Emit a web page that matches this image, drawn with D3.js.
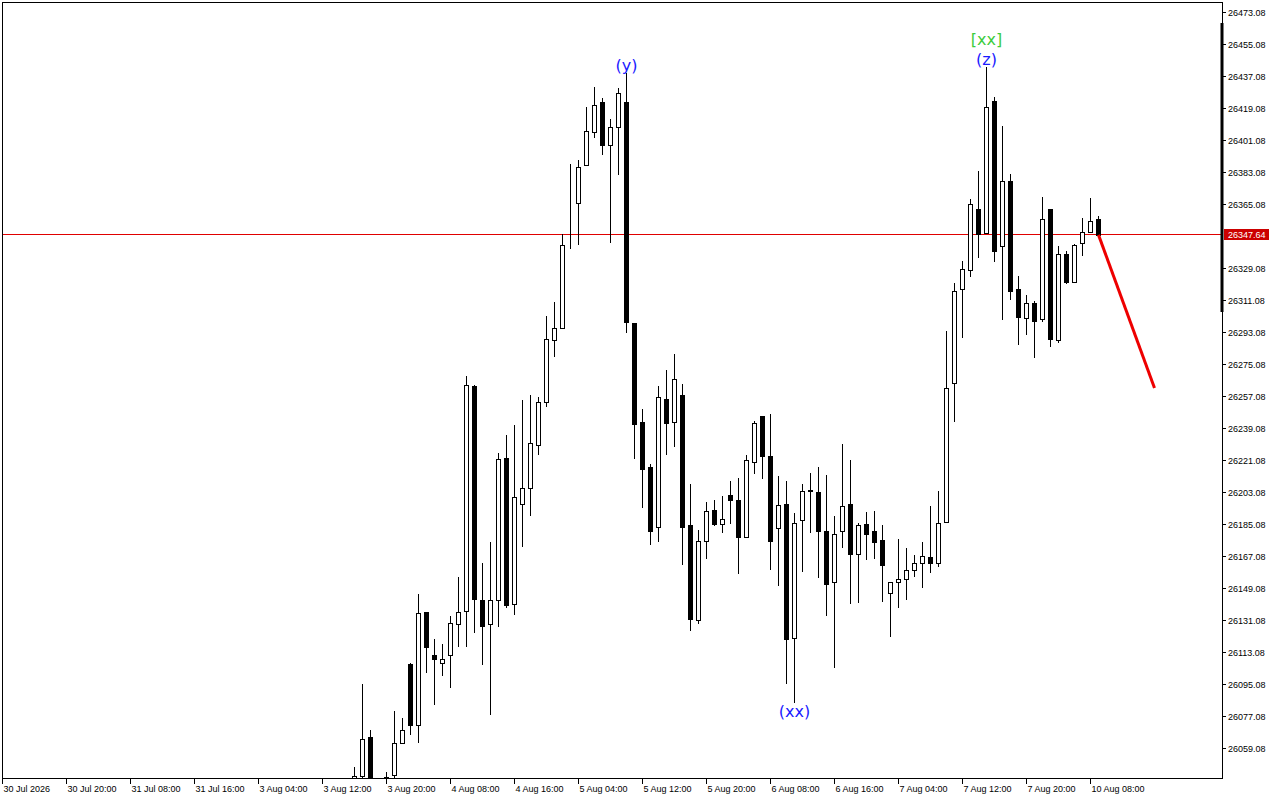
<!DOCTYPE html>
<html><head><meta charset="utf-8">
<script src="https://cdn.jsdelivr.net/npm/d3@7"></script>
<style>html,body{margin:0;padding:0;background:#fff;overflow:hidden}</style>
</head><body><svg id="c" width="1280" height="800"></svg>
<script>
// ---- data ----
const firstBar = 44; // bar index of first candle in the arrays
const opens = [26038.5,26043.7,26065.3,26030.0,26022.0,26044.3,26061.9,26106.5,26072.4,26135.6,
26111.6,26106.9,26111.4,26128.8,26136.1,26262.7,26142.5,26128.8,26142.5,26222.1,
26140.0,26196.2,26205.2,26229.4,26253.6,26288.4,26295.2,26367.1,26365.7,26386.8,
26405.3,26422.2,26398.0,26408.1,26422.2,26298.0,26242.3,26217.0,26183.7,26255.3,
26242.3,26257.5,26184.4,26131.1,26175.5,26192.9,26185.0,26201.3,26198.5,26177.7,
26219.8,26245.7,26223.2,26182.8,26196.2,26120.9,26187.3,26204.2,26203.0,26181.1,
26152.4,26181.1,26196.2,26168.5,26185.0,26181.1,26176.0,26146.2,26152.4,26154.1,
26159.2,26163.1,26166.5,26163.1,26186.1,26264.4,26317.1,26327.8,26362.0,26348.5,
26422.7,26341.2,26377.8,26317.1,26300.8,26309.2,26300.2,26362.0,26288.4,26336.7,
26321.0,26342.9,26349.1,26356.4];
const highs = [26048.6,26095.3,26069.4,26037.0,26045.6,26080.1,26076.0,26106.9,26145.8,26135.6,
26120.5,26117.7,26133.5,26155.4,26268.3,26263.3,26163.3,26175.1,26224.9,26235.0,
26240.8,26254.9,26257.7,26256.4,26302.1,26309.9,26348.2,26387.5,26389.7,26419.5,
26430.8,26424.6,26412.6,26430.0,26438.5,26298.2,26249.6,26218.7,26262.6,26271.7,
26280.7,26263.9,26207.7,26181.6,26197.4,26198.7,26200.9,26209.3,26211.0,26223.8,
26242.9,26245.7,26247.0,26212.0,26209.2,26191.2,26207.5,26213.7,26217.0,26212.5,
26189.5,26230.0,26221.0,26185.6,26191.8,26192.3,26184.4,26152.4,26176.6,26171.5,
26167.6,26174.9,26195.1,26203.6,26293.5,26320.4,26332.8,26367.7,26383.4,26441.8,
26425.0,26408.7,26381.7,26324.4,26313.7,26310.3,26368.8,26362.0,26341.2,26338.4,
26342.4,26357.0,26368.2,26358.1];
const lows = [26034.6,26035.7,26027.3,26014.0,26015.0,26043.2,26061.9,26067.2,26062.8,26102.2,
26084.2,26100.1,26093.4,26116.8,26116.8,26124.6,26106.7,26078.2,26128.0,26138.7,
26134.8,26173.0,26190.4,26224.7,26251.7,26279.8,26295.2,26340.5,26342.7,26386.8,
26402.8,26393.3,26343.8,26382.0,26293.2,26222.4,26194.9,26173.8,26175.8,26224.7,
26229.2,26162.5,26125.4,26129.4,26165.9,26184.4,26180.5,26185.6,26157.5,26177.7,
26213.7,26210.9,26159.7,26150.7,26095.7,26085.3,26158.6,26180.5,26155.2,26133.8,
26104.6,26172.1,26140.6,26141.5,26165.7,26166.2,26142.1,26122.4,26138.7,26143.2,
26156.1,26149.6,26158.4,26161.4,26186.1,26242.9,26290.1,26324.4,26335.1,26348.5,
26332.8,26300.2,26311.5,26286.2,26291.8,26279.2,26299.1,26285.0,26287.3,26320.4,
26321.0,26336.2,26349.1,26347.6];
const closes = [26043.7,26064.2,26030.1,26022.0,26042.8,26061.9,26069.2,26072.4,26135.0,26115.9,
26109.1,26109.1,26129.4,26135.6,26263.3,26142.9,26128.0,26142.5,26221.5,26139.7,
26200.3,26205.2,26230.5,26253.6,26289.0,26295.3,26341.8,26367.1,26385.6,26405.9,
26420.5,26398.3,26408.1,26427.2,26298.5,26241.2,26215.9,26181.4,26256.4,26241.8,
26266.5,26183.7,26131.6,26175.5,26192.3,26185.0,26187.8,26198.5,26177.7,26221.0,
26241.8,26223.2,26175.5,26195.7,26120.4,26185.9,26203.6,26203.6,26181.1,26151.3,
26179.4,26195.1,26168.5,26184.4,26179.7,26175.2,26162.3,26152.4,26154.1,26159.2,
26163.1,26167.0,26163.1,26185.6,26261.6,26316.0,26328.3,26364.8,26348.0,26419.4,
26338.4,26377.8,26316.0,26301.3,26309.2,26299.1,26356.4,26289.0,26336.7,26321.0,
26341.8,26349.1,26355.3,26347.64];

const xTickBars = [0,8,16,24,32,40,48,56,64,72,80,88,96,104,112,120,128,136];
const xTickLabels = ["30 Jul 2026","30 Jul 20:00","31 Jul 08:00","31 Jul 16:00","3 Aug 04:00",
"3 Aug 12:00","3 Aug 20:00","4 Aug 08:00","4 Aug 16:00","5 Aug 04:00","5 Aug 12:00",
"5 Aug 20:00","6 Aug 08:00","6 Aug 16:00","7 Aug 04:00","7 Aug 12:00","7 Aug 20:00","10 Aug 08:00"];
const yTicks = [26059.08,26077.08,26095.08,26113.08,26131.08,26149.08,26167.08,26185.08,
26203.08,26221.08,26239.08,26257.08,26275.08,26293.08,26311.08,26329.08,
26365.08,26383.08,26401.08,26419.08,26437.08,26455.08,26473.08];
const yTickLabels = ["26059.08","26077.08","26095.08","26113.08","26131.08","26149.08","26167.08","26185.08",
"26203.08","26221.08","26239.08","26257.08","26275.08","26293.08","26311.08","26329.08",
"26365.08","26383.08","26401.08","26419.08","26437.08","26455.08","26473.08"];
const lastPrice = 26347.64;
const lastPriceLabel = "26347.64";
const forecastBars = [137, 144];
const forecastPrices = [26347.64, 26261.6];
const waveBars = [78, 99, 123, 123];
const waveTexts = ["(y)", "(xx)", "(z)", "[xx]"];
const waveSides = ["above", "below", "above", "above2"];
const waveColors = ["#1a1aff", "#1a1aff", "#1a1aff", "#3ccc3c"];

// ---- chart ----
const svg = d3.select("#c");
const L = 2, R = 1222, T = 2, B = 778;
const x = d3.scaleLinear().domain([0, 1]).range([2, 10]);
const y = d3.scaleLinear().domain([26059.08, 26473.08]).range([748.3, 11.7]);

svg.append("defs").append("clipPath").attr("id", "clip")
  .append("rect").attr("x", L + 1).attr("y", T + 1).attr("width", R - L - 1).attr("height", B - T - 1);

const candles = opens.map((o, k) => ({ i: firstBar + k, o, h: highs[k], l: lows[k], c: closes[k] }));

// last price line
const ly = Math.floor(y(lastPrice)) + 0.5;
svg.append("line").attr("x1", L).attr("x2", R).attr("y1", ly).attr("y2", ly)
  .attr("stroke", "#e00000").attr("stroke-width", 1).attr("shape-rendering", "crispEdges");

const g = svg.append("g").attr("clip-path", "url(#clip)");
candles.forEach(d => {
  const cx = Math.round(x(d.i)) + 0.5;
  g.append("line").attr("x1", cx).attr("x2", cx)
    .attr("y1", Math.round(y(d.h))).attr("y2", Math.round(y(d.l)) + 1)
    .attr("stroke", "#000").attr("stroke-width", 1);
  const top = Math.round(y(Math.max(d.o, d.c)));
  const bot = Math.round(y(Math.min(d.o, d.c)));
  if (d.c >= d.o) {
    g.append("rect").attr("x", cx - 2).attr("y", top + 0.5).attr("width", 4)
      .attr("height", Math.max(0, bot - top)).attr("fill", "#fff").attr("stroke", "#000").attr("stroke-width", 1);
  } else {
    g.append("rect").attr("x", cx - 2.5).attr("y", top).attr("width", 5)
      .attr("height", Math.max(1, bot - top + 1)).attr("fill", "#000");
  }
});

// forecast line
g.append("line")
  .attr("x1", x(forecastBars[0]) + 0.5).attr("y1", y(forecastPrices[0]))
  .attr("x2", x(forecastBars[1]) + 0.5).attr("y2", y(forecastPrices[1]))
  .attr("stroke", "#ee0000").attr("stroke-width", 3);

// wave labels
waveBars.forEach((b, k) => {
  const d = candles[b - firstBar];
  let ty;
  if (waveSides[k] === "above") ty = y(d.h) - 2.5;
  else if (waveSides[k] === "above2") ty = y(d.h) - 22.5;
  else ty = y(d.l) + 15.5;
  svg.append("text").attr("x", x(b) + 0.5).attr("y", ty).attr("text-anchor", "middle")
    .attr("font-family", "DejaVu Sans").attr("font-size", 16).attr("fill", waveColors[k])
    .text(waveTexts[k]);
});

// frame
svg.append("rect").attr("x", L + 0.5).attr("y", T + 0.5).attr("width", R - L).attr("height", B - T)
  .attr("fill", "none").attr("stroke", "#000").attr("stroke-width", 1);

// right scale bar
svg.append("rect").attr("x", R - 1.5).attr("y", 23).attr("width", 3).attr("height", 289).attr("fill", "#000");

// y axis
yTicks.forEach((v, k) => {
  const yy = Math.round(y(v)) + 0.5;
  svg.append("line").attr("x1", R).attr("x2", R + 4).attr("y1", yy).attr("y2", yy).attr("stroke", "#000");
  svg.append("text").attr("x", R + 6).attr("y", yy + 3.5)
    .attr("font-family", "Liberation Sans, Arial, sans-serif").attr("font-size", 9).attr("fill", "#000")
    .text(yTickLabels[k]);
});
svg.append("rect").attr("x", R + 2).attr("y", ly - 5.5).attr("width", 45).attr("height", 11).attr("fill", "#cc0000");
svg.append("text").attr("x", R + 6).attr("y", ly + 3.5)
  .attr("font-family", "Liberation Sans, Arial, sans-serif").attr("font-size", 9).attr("fill", "#fff")
  .text(lastPriceLabel);

// x axis
xTickBars.forEach((b, k) => {
  const xx = Math.round(x(b)) + 0.5;
  svg.append("line").attr("x1", xx).attr("x2", xx).attr("y1", B).attr("y2", B + 6).attr("stroke", "#000");
  svg.append("text").attr("x", xx + 1).attr("y", 792)
    .attr("font-family", "Liberation Sans, Arial, sans-serif").attr("font-size", 9).attr("fill", "#000")
    .text(xTickLabels[k]);
});
</script></body></html>
